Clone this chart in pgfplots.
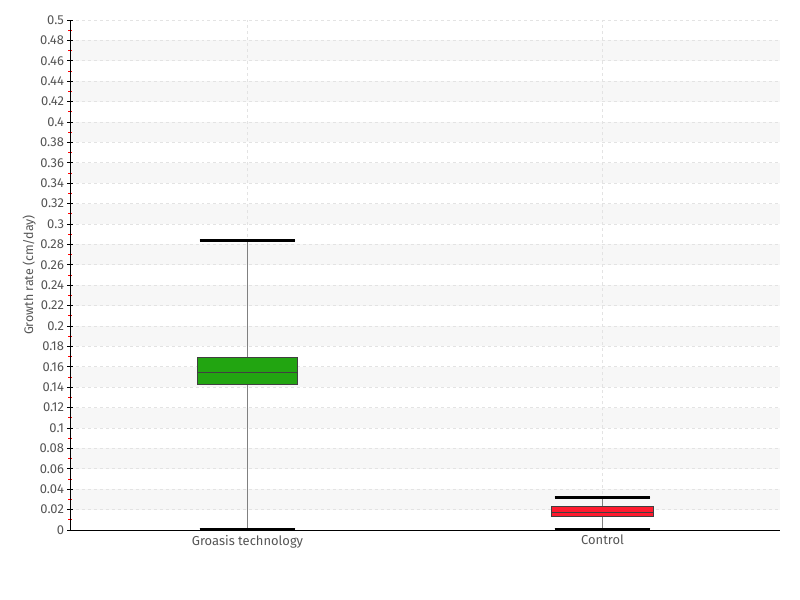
\documentclass[border=0pt]{standalone}
\usepackage{fontspec}
\setmainfont{Fira Sans}
\usepackage{pgfplots}
\pgfplotsset{compat=1.18}
\usepgfplotslibrary{statistics}
\definecolor{grnbox}{HTML}{22A511}
\definecolor{redbox}{HTML}{FF1A2E}
\definecolor{txt}{HTML}{555555}
\definecolor{band}{HTML}{F7F7F7}
\definecolor{gridc}{HTML}{E3E3E3}
\newcommand\band[2]{\addplot[on layer=axis background, fill=band, draw=none, forget plot] coordinates {(-0.5,#1) (1.5,#1) (1.5,#2) (-0.5,#2)} -- cycle;}
\pgfplotsset{
  boxplot/draw direction=y,
  boxplot/draw/lower whisker/.code={
    \draw[color=gray, line width=1.8bp] (boxplot box cs:\pgfplotsboxplotvalue{lower whisker},0.5) -- (boxplot box cs:\pgfplotsboxplotvalue{lower quartile},0.5);
    \draw[black, line width=2.4bp] (boxplot whisker cs:\pgfplotsboxplotvalue{lower whisker},0) -- (boxplot whisker cs:\pgfplotsboxplotvalue{lower whisker},1);
  },
  boxplot/draw/upper whisker/.code={
    \draw[color=gray, line width=1.8bp] (boxplot box cs:\pgfplotsboxplotvalue{upper whisker},0.5) -- (boxplot box cs:\pgfplotsboxplotvalue{upper quartile},0.5);
    \draw[black, line width=2.4bp] (boxplot whisker cs:\pgfplotsboxplotvalue{upper whisker},0) -- (boxplot whisker cs:\pgfplotsboxplotvalue{upper whisker},1);
  },
}
\begin{document}
\begin{tikzpicture}
\begin{axis}[
  set layers,
  scale only axis, width=710bp, height=510bp,
  xmin=-0.5, xmax=1.5, ymin=0, ymax=0.5,
  axis lines*=left,
  axis line style={black, line width=0.9bp},
  xtick={0,1}, xticklabels={Groasis technology, Control},
  xtick style={draw=none},
  ytick={0,0.02,0.04,0.06,0.08,0.1,0.12,0.14,0.16,0.18,0.2,0.22,0.24,0.26,0.28,0.3,0.32,0.34,0.36,0.38,0.4,0.42,0.44,0.46,0.48,0.5},
  minor y tick num=1,
  tick align=center,
  major tick length=5bp, minor tick length=3bp,
  major tick style={black, line width=0.8bp},
  minor tick style={red, line width=0.8bp},
  scaled y ticks=false,
  yticklabel style={/pgf/number format/fixed, /pgf/number format/precision=2, /pgf/number format/assume math mode=true},
  ticklabel style={font=\fontsize{13}{13}\selectfont, color=txt},
  ymajorgrids, xmajorgrids,
  major grid style={gridc, dashed, line width=0.8bp},
  ylabel={Growth rate (cm/day)},
  ylabel style={font=\fontsize{12.5}{12.5}\selectfont, color=txt, yshift=-3bp},
  xticklabel style={yshift=1bp},
]
\band{0.02}{0.04}
\band{0.06}{0.08}
\band{0.10}{0.12}
\band{0.14}{0.16}
\band{0.18}{0.20}
\band{0.22}{0.24}
\band{0.26}{0.28}
\band{0.30}{0.32}
\band{0.34}{0.36}
\band{0.38}{0.40}
\band{0.42}{0.44}
\band{0.46}{0.48}
\addplot[fill=grnbox, draw=black!75, line width=0.9bp,
  boxplot prepared={draw position=0, median=0.154, upper quartile=0.1695, lower quartile=0.143,
  upper whisker=0.284, lower whisker=0.0012, box extend=0.28, whisker extend=0.27}]
  coordinates {};
\addplot[fill=redbox, draw=black!75, line width=0.9bp,
  boxplot prepared={draw position=1, median=0.0174, upper quartile=0.0229, lower quartile=0.0137,
  upper whisker=0.0317, lower whisker=0.0012, box extend=0.285, whisker extend=0.27}]
  coordinates {};
\end{axis}
\path ([xshift=-70bp,yshift=-70bp]current axis.south west) rectangle ([xshift=20bp,yshift=20bp]current axis.north east);
\end{tikzpicture}
\end{document}
